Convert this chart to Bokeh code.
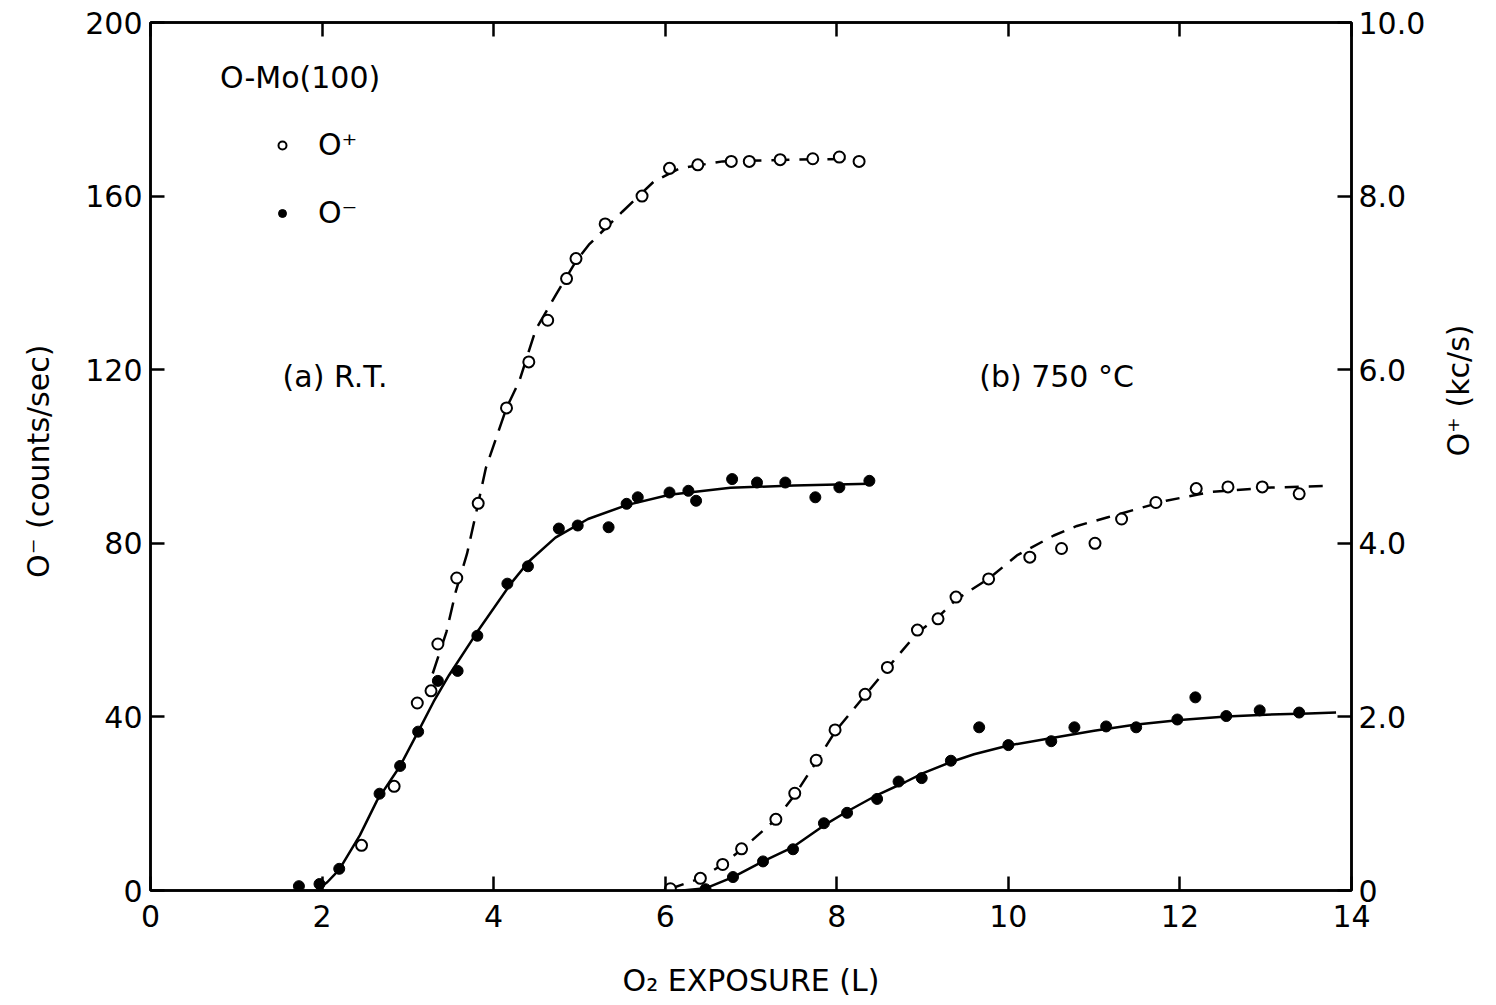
import math
from bokeh.plotting import figure
from bokeh.models import (Range1d, LinearAxis, FixedTicker, Label, Legend,
                          LegendItem, NumeralTickFormatter)
from bokeh.embed import file_html
from bokeh.resources import INLINE

# ---------------- data ----------------
# (a) room temperature
a_minus_x = [1.73, 1.97, 2.20, 2.67, 2.91, 3.12, 3.35, 3.58, 3.81, 4.16, 4.40, 4.76,
             4.98, 5.34, 5.55, 5.68, 6.05, 6.27, 6.36, 6.78, 7.07, 7.40, 7.75, 8.03, 8.38]
a_minus_y = [1.0, 1.5, 5.0, 22.3, 28.7, 36.6, 48.3, 50.6, 58.7, 70.7, 74.7, 83.4,
             84.1, 83.7, 89.1, 90.6, 91.7, 92.1, 89.8, 94.8, 94.0, 94.0, 90.6, 92.9, 94.4]   # counts/sec

a_plus_x = [2.46, 2.84, 3.11, 3.27, 3.35, 3.57, 3.82, 4.15, 4.41, 4.63, 4.85, 4.96,
            5.30, 5.73, 6.05, 6.38, 6.77, 6.98, 7.34, 7.72, 8.03, 8.26]
a_plus_y = [0.52, 1.20, 2.16, 2.30, 2.84, 3.60, 4.46, 5.56, 6.09, 6.57, 7.05, 7.28,
            7.68, 8.00, 8.32, 8.36, 8.40, 8.40, 8.42, 8.43, 8.45, 8.40]                      # kc/s

# (b) 750 C
b_minus_x = [6.47, 6.79, 7.14, 7.49, 7.85, 8.12, 8.47, 8.72, 8.99, 9.33, 9.66, 10.0,
             10.5, 10.77, 11.14, 11.49, 11.97, 12.18, 12.54, 12.93, 13.39]
b_minus_y = [0.3, 3.1, 6.7, 9.5, 15.5, 17.9, 21.1, 25.1, 25.9, 29.9, 37.6, 33.5,
             34.4, 37.6, 37.8, 37.6, 39.4, 44.5, 40.2, 41.5, 41.0]                          # counts/sec

b_plus_x = [6.06, 6.41, 6.67, 6.89, 7.29, 7.51, 7.76, 7.98, 8.33, 8.59, 8.94, 9.18,
            9.39, 9.77, 10.25, 10.62, 11.01, 11.32, 11.72, 12.19, 12.56, 12.96, 13.39]
b_plus_y = [0.02, 0.14, 0.30, 0.48, 0.82, 1.12, 1.50, 1.85, 2.26, 2.57, 3.00, 3.13,
            3.38, 3.59, 3.84, 3.94, 4.00, 4.28, 4.47, 4.63, 4.65, 4.65, 4.57]               # kc/s

# hand-drawn guide curves (nodes)
fit_a_minus_x = [1.95, 2.06, 2.20, 2.44, 2.64, 2.91, 3.12, 3.30, 3.48, 3.81, 4.20, 4.41,
                 4.72, 5.10, 5.55, 6.05, 6.76, 7.50, 8.38]
fit_a_minus_y = [0.3, 1.9, 4.8, 12.7, 20.7, 28.7, 36.6, 43.5, 49.6, 59.6, 70.7, 75.8,
                 81.3, 85.6, 88.8, 91.2, 92.8, 93.3, 93.7]

fit_a_plus_x = [3.29, 3.45, 3.56, 3.69, 3.82, 3.91, 4.15, 4.30, 4.49, 4.73, 4.96, 5.11,
                5.50, 5.87, 6.17, 6.67, 7.50, 8.30]
fit_a_plus_y = [2.50, 2.98, 3.45, 3.88, 4.46, 4.87, 5.56, 5.87, 6.46, 6.87, 7.25, 7.44,
                7.82, 8.17, 8.32, 8.40, 8.42, 8.43]

fit_b_minus_x = [6.20, 6.47, 6.79, 7.14, 7.49, 7.85, 8.12, 8.47, 8.80, 9.00, 9.33, 9.60,
                 10.0, 10.49, 11.0, 11.47, 12.0, 12.54, 13.0, 13.5, 13.82]
fit_b_minus_y = [0.0, 0.5, 3.1, 6.7, 10.0, 15.0, 18.2, 22.0, 25.0, 27.0, 29.6, 31.4,
                 33.4, 35.1, 36.8, 38.2, 39.3, 40.1, 40.5, 40.8, 41.0]

fit_b_plus_x = [6.06, 6.41, 6.67, 6.90, 7.29, 7.51, 7.76, 7.98, 8.33, 8.59, 8.94, 9.18,
                9.39, 9.78, 10.10, 10.53, 10.80, 11.16, 11.84, 12.35, 13.00, 13.70]
fit_b_plus_y = [0.02, 0.14, 0.30, 0.48, 0.82, 1.10, 1.48, 1.83, 2.25, 2.56, 2.97, 3.15,
                3.35, 3.60, 3.86, 4.09, 4.20, 4.30, 4.49, 4.59, 4.64, 4.66]

x_ticks = [0, 2, 4, 6, 8, 10, 12, 14]
left_ticks = [0, 40, 80, 120, 160, 200]
right_ticks = [0, 2, 4, 6, 8, 10]

FONT = "DejaVu Sans"

# ---------------- figure ----------------
p = figure(width=1496, height=1000, output_backend="svg", toolbar_location=None,
           x_range=Range1d(0, 14), y_range=Range1d(0, 200),
           min_border_left=150, min_border_right=143, min_border_top=22,
           min_border_bottom=107)
p.extra_y_ranges = {"kcs": Range1d(0, 10)}
p.xgrid.visible = False
p.ygrid.visible = False
p.outline_line_color = "black"
p.outline_line_width = 2.5
p.background_fill_color = "white"
p.border_fill_color = "white"

right_axis = LinearAxis(y_range_name="kcs")
top_axis = LinearAxis()
p.add_layout(right_axis, "right")
p.add_layout(top_axis, "above")


def style(ax):
    ax.axis_line_width = 2.5
    ax.axis_line_color = "black"
    ax.major_tick_in = 14
    ax.major_tick_out = 0
    ax.major_tick_line_width = 2.5
    ax.major_tick_line_color = "black"
    ax.minor_tick_line_color = None
    ax.major_label_text_font = FONT
    ax.major_label_text_font_size = "30px"
    ax.major_label_text_color = "black"
    ax.axis_label_text_font = FONT
    ax.axis_label_text_font_style = "normal"
    ax.axis_label_text_font_size = "30px"
    ax.axis_label_text_color = "black"


for ax in p.xaxis:
    style(ax)
    ax.ticker = FixedTicker(ticks=x_ticks)
for ax in p.yaxis:
    style(ax)

bottom = p.below[0]
bottom.axis_label = "O₂ EXPOSURE (L)"
bottom.major_label_standoff = 14
bottom.axis_label_standoff = 33

left = p.left[0]
left.ticker = FixedTicker(ticks=left_ticks)
left.axis_label = "O⁻  (counts/sec)"
left.major_label_standoff = 8
left.axis_label_standoff = 26

right_axis.ticker = FixedTicker(ticks=right_ticks)
right_axis.formatter = NumeralTickFormatter(format="0.0")
right_axis.major_label_overrides = {0: "0"}
right_axis.axis_label = "O⁺ (kc/s)"
right_axis.major_label_standoff = 7
right_axis.axis_label_standoff = 30
try:
    right_axis.axis_label_orientation = math.pi / 2
except Exception:
    pass

top_axis.ticker = FixedTicker(ticks=x_ticks)
top_axis.major_label_overrides = {t: "" for t in x_ticks}

# ---------------- curves ----------------
p.line(fit_a_minus_x, fit_a_minus_y, line_color="black", line_width=2.5)
p.line(fit_b_minus_x, fit_b_minus_y, line_color="black", line_width=2.5)
p.line(fit_a_plus_x, fit_a_plus_y, y_range_name="kcs", line_color="black",
       line_width=2.5, line_dash="18 10")
p.line(fit_b_plus_x, fit_b_plus_y, y_range_name="kcs", line_color="black",
       line_width=2.5, line_dash="14 10")

# ---------------- points ----------------
r_plus_a = p.scatter(a_plus_x, a_plus_y, y_range_name="kcs", size=11, marker="circle",
                     fill_color="white", line_color="black", line_width=2)
p.scatter(b_plus_x, b_plus_y, y_range_name="kcs", size=11, marker="circle",
          fill_color="white", line_color="black", line_width=2)
r_minus_a = p.scatter(a_minus_x, a_minus_y, size=11, marker="circle",
                      fill_color="black", line_color="black")
p.scatter(b_minus_x, b_minus_y, size=11, marker="circle",
          fill_color="black", line_color="black")

# ---------------- legend & annotations ----------------
legend = Legend(items=[LegendItem(label="O⁺", renderers=[r_plus_a]),
                       LegendItem(label="O⁻", renderers=[r_minus_a])],
                location=(122, 660), orientation="vertical",
                label_text_font=FONT, label_text_font_size="30px",
                label_text_color="black",
                label_height=32, glyph_height=32, glyph_width=20,
                spacing=33, padding=0, margin=0, label_standoff=26,
                border_line_alpha=0, background_fill_alpha=0)
p.add_layout(legend, "center")

for txt, x, y in [("O-Mo(100)", 0.81, 187.3), ("(a) R.T.", 1.54, 118.5),
                  ("(b) 750 °C", 9.66, 118.5)]:
    p.add_layout(Label(x=x, y=y, text=txt, text_font=FONT, text_font_size="30px",
                       text_baseline="middle", text_color="black"))

open("out.html", "w").write(file_html(p, INLINE))
